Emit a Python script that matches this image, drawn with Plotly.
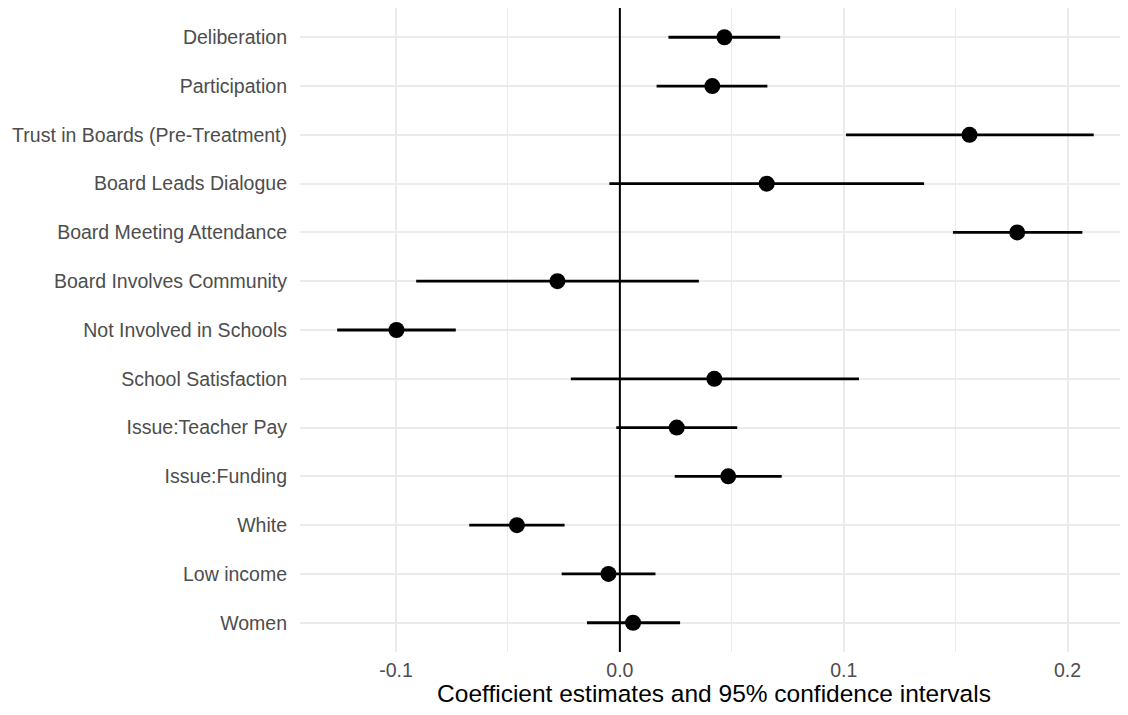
import plotly.graph_objects as go

terms = ["Deliberation", "Participation", "Trust in Boards (Pre-Treatment)",
         "Board Leads Dialogue", "Board Meeting Attendance", "Board Involves Community",
         "Not Involved in Schools", "School Satisfaction", "Issue:Teacher Pay",
         "Issue:Funding", "White", "Low income", "Women"]
estimate = [0.0467, 0.0413, 0.1562, 0.0656, 0.1775, -0.0279, -0.0998, 0.0422,
            0.0254, 0.0484, -0.0460, -0.0051, 0.0059]
ci_low = [0.0217, 0.0164, 0.1010, -0.0047, 0.1488, -0.0910, -0.1263, -0.0219,
          -0.0016, 0.0245, -0.0673, -0.0260, -0.0147]
ci_high = [0.0716, 0.0659, 0.2117, 0.1359, 0.2066, 0.0353, -0.0733, 0.1068,
           0.0524, 0.0723, -0.0247, 0.0159, 0.0269]
x_ticks = [-0.1, 0.0, 0.1, 0.2]
x_tick_labels = ["-0.1", "0.0", "0.1", "0.2"]

plus = [h - e for h, e in zip(ci_high, estimate)]
minus = [e - l for e, l in zip(estimate, ci_low)]

fig = go.Figure()
fig.add_vline(x=0, line=dict(color="black", width=2))
fig.add_trace(go.Scatter(
    x=estimate, y=terms, mode="markers",
    marker=dict(color="black", size=16),
    error_x=dict(type="data", symmetric=False, array=plus, arrayminus=minus,
                 color="black", thickness=2.8, width=0),
    showlegend=False,
))

fig.update_layout(
    width=1120, height=707,
    margin=dict(l=292, r=0, t=0, b=63, autoexpand=False),
    paper_bgcolor="white", plot_bgcolor="white",
    font=dict(family="Liberation Sans, Arial, sans-serif"),
    xaxis=dict(
        range=[-0.1429, 0.227],
        tickvals=x_ticks, ticktext=x_tick_labels,
        tickfont=dict(size=19.5, color="#4d4d4d"),
        showgrid=True, gridcolor="#ebebeb", gridwidth=2,
        minor=dict(dtick=0.05, tick0=0, showgrid=True, gridcolor="#ebebeb", gridwidth=1),
        zeroline=False, showline=False, ticks="",
        ticklabelstandoff=4,
        title=dict(text="Coefficient estimates and 95% confidence intervals",
                   font=dict(size=24.5, color="black"), standoff=2),
    ),
    yaxis=dict(
        categoryorder="array", categoryarray=terms,
        range=[12.6, -0.6],
        tickfont=dict(size=19.5, color="#4d4d4d"),
        showgrid=True, gridcolor="#ebebeb", gridwidth=2,
        zeroline=False, showline=False, ticks="",
        ticklabelstandoff=12,
    ),
)

fig.write_html("out.html")
